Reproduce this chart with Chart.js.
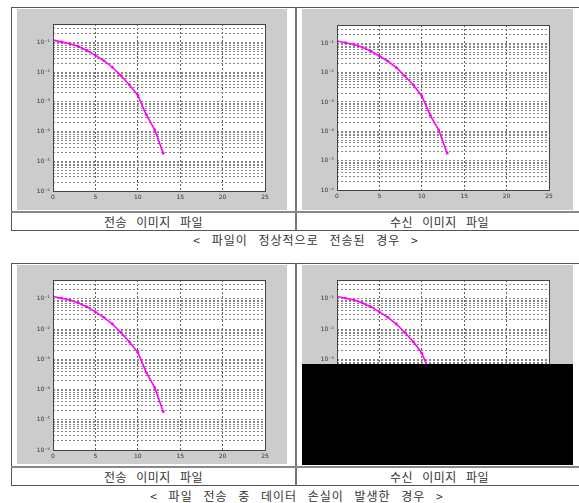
<!DOCTYPE html>
<html>
<head>
<meta charset="utf-8">
<script src="https://cdn.jsdelivr.net/npm/chart.js@4.4.0/dist/chart.umd.min.js"></script>
<style>
body { margin:0; background:#fff; width:579px; height:503px; overflow:hidden; position:relative; font-family:"Noto Sans CJK KR", sans-serif; }
.tbl { position:absolute; left:11px; width:600px; border:1px solid #555; border-right:none; box-sizing:border-box; }
.vline { position:absolute; left:295px; width:2px; background:#777; }
.hline { position:absolute; left:11px; width:600px; height:2px; background:#888; }
canvas { position:absolute; background:#cccccc; }
.cap { position:absolute; width:285px; font-size:12px; color:#333; text-align:center; line-height:17px; word-spacing:6px; letter-spacing:0.5px; }
.title { position:absolute; width:400px; text-align:center; font-size:12px; color:#333; line-height:16px; word-spacing:7px; letter-spacing:1px; }
.loss { position:absolute; background:#000; }
</style>
</head>
<body>
<div class="tbl" style="top:7px;height:224px"></div>
<div class="vline" style="top:7px;height:224px"></div>
<div class="hline" style="top:211px"></div>
<canvas id="c1" width="270" height="201" style="left:17px;top:9px"></canvas>
<canvas id="c2" width="271" height="201" style="left:302px;top:9px"></canvas>
<div class="cap" style="left:11px;top:213px">전송 이미지 파일</div>
<div class="cap" style="left:297px;top:213px">수신 이미지 파일</div>
<div class="title" style="left:106px;top:232px">&lt; 파일이 정상적으로 전송된 경우 &gt;</div>

<div class="tbl" style="top:263px;height:223px"></div>
<div class="vline" style="top:263px;height:223px"></div>
<div class="hline" style="top:466px"></div>
<canvas id="c3" width="270" height="199" style="left:17px;top:265px"></canvas>
<canvas id="c4" width="271" height="199" style="left:302px;top:265px"></canvas>
<div class="loss" style="left:302px;top:364px;width:271px;height:101px"></div>
<div class="cap" style="left:11px;top:468px">전송 이미지 파일</div>
<div class="cap" style="left:297px;top:468px">수신 이미지 파일</div>
<div class="title" style="left:97px;top:488px">&lt; 파일 전송 중 데이터 손실이 발생한 경우 &gt;</div>

<script>
// SNR (dB) vs BER
const snrDb = [0, 1, 2, 3, 4, 5, 6, 7, 8, 9, 10, 11, 12, 13];
const berSent = [0.12, 0.105, 0.091, 0.073, 0.054, 0.037, 0.0245, 0.0147, 0.0077, 0.0038, 0.0017, 3.7e-4, 1.15e-4, 1.85e-5];
const berReceived = [0.12, 0.105, 0.091, 0.073, 0.054, 0.037, 0.0245, 0.0147, 0.0077, 0.0038, 0.0016, 3.5e-4, 1.1e-4, 1.8e-5];
const xTicks = [0, 5, 10, 15, 20, 25];
const yDecades = [-6, -5, -4, -3, -2, -1];
const yTickLabels = ['10⁻⁶', '10⁻⁵', '10⁻⁴', '10⁻³', '10⁻²', '10⁻¹'];
const yMin = 1e-6, yMax = 0.42;

const boxPlugin = {
    id: 'box',
    beforeDraw(chart) {
        const {ctx, chartArea: a} = chart;
        ctx.save();
        ctx.fillStyle = '#fff';
        ctx.fillRect(a.left, a.top, a.right - a.left, a.bottom - a.top);
        ctx.restore();
    },
    afterDraw(chart) {
        const {ctx, chartArea: a} = chart;
        ctx.save();
        ctx.strokeStyle = '#444';
        ctx.lineWidth = 1;
        ctx.strokeRect(Math.round(a.left) + 0.5, Math.round(a.top) + 0.5, Math.round(a.right - a.left), Math.round(a.bottom - a.top));
        ctx.restore();
    }
};

function makeChart(id, values, pad) {
    return new Chart(document.getElementById(id), {
        type: 'line',
        data: {
            datasets: [{
                data: snrDb.map((x, i) => ({x: x, y: values[i]})),
                borderColor: '#ff00ff',
                backgroundColor: '#ff00ff',
                borderWidth: 1.6,
                pointRadius: 1.4,
                pointBorderWidth: 0,
                tension: 0
            }]
        },
        options: {
            responsive: false,
            animation: false,
            events: [],
            layout: { padding: { left: 0, right: pad.r, top: pad.t, bottom: 0 } },
            plugins: { legend: { display: false }, tooltip: { enabled: false } },
            scales: {
                x: {
                    type: 'linear', min: 0, max: 25,
                    afterBuildTicks: s => { s.ticks = xTicks.map(v => ({value: v})); },
                    afterFit: s => { s.height = pad.b; },
                    grid: { color: c => (c.tick && (c.tick.value === 0 || c.tick.value === 25)) ? 'rgba(0,0,0,0)' : '#5f5f5f', drawTicks: false, lineWidth: 1 },
                    border: { display: false, dash: [2, 2] },
                    ticks: { font: { family: 'DejaVu Sans', size: 6 }, color: '#333', padding: 3, maxRotation: 0, autoSkip: false }
                },
                y: {
                    type: 'logarithmic', min: yMin, max: yMax,
                    afterBuildTicks: s => {
                        const t = [];
                        yDecades.forEach(k => {
                            for (let m = 1; m <= 9; m++) {
                                const v = m * Math.pow(10, k);
                                if (v <= yMax) t.push({value: v, major: m === 1});
                            }
                        });
                        s.ticks = t;
                    },
                    afterFit: s => { s.width = pad.l; },
                    grid: { color: c => (c.tick && c.tick.value === yMin) ? 'rgba(0,0,0,0)' : '#858585', drawTicks: false, lineWidth: 1 },
                    border: { display: false, dash: [2, 2] },
                    ticks: {
                        font: { family: 'DejaVu Sans', size: 6 }, color: '#333', padding: 3, autoSkip: false,
                        callback: (v, i, t) => t[i].major ? yTickLabels[yDecades.indexOf(Math.round(Math.log10(v)))] : ''
                    }
                }
            }
        },
        plugins: [boxPlugin]
    });
}

makeChart('c1', berSent, {l: 36, r: 22, t: 15, b: 19});
makeChart('c2', berReceived, {l: 35, r: 24, t: 16, b: 20});
makeChart('c3', berSent, {l: 36, r: 22, t: 15, b: 14});
makeChart('c4', berReceived, {l: 35, r: 24, t: 15, b: 14});
</script>
</body>
</html>
